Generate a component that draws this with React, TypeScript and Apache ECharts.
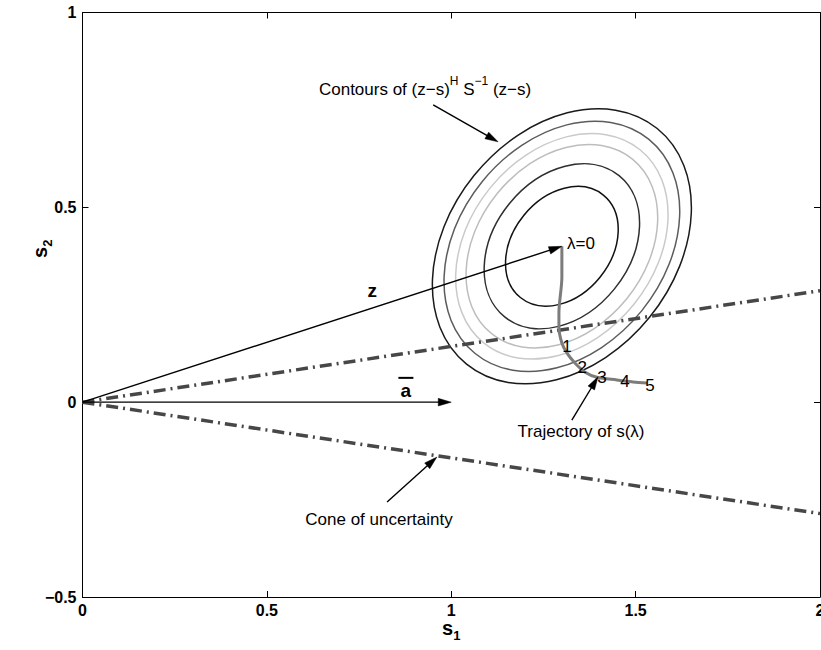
import React, { useEffect, useRef } from 'react';
import * as echarts from 'echarts';

const FONT = '"Liberation Sans", Arial, Helvetica, sans-serif';

// Axis ticks
const xTickValues = [0, 0.5, 1, 1.5, 2];
const xTickLabels = ['0', '0.5', '1', '1.5', '2'];
const yTickValues = [-0.5, 0, 0.5, 1];
const yTickLabels = ['\u22120.5', '0', '0.5', '1'];

// Vectors
const zVector = [1.3, 0.4];
const aVector = [1, 0];

// Cone of uncertainty edges
const coneUpper = [[0, 0], [2, 0.286]];
const coneLower = [[0, 0], [2, -0.286]];

// Contours of (z-s)^H S^-1 (z-s), centred on z
const contourScale = [1, 0.91, 0.82, 0.74, 0.6, 0.435];
const contourColors = ['#1a1a1a', '#5c5c5c', '#cacaca', '#bdbdbd', '#2e2e2e', '#111111'];
const ellipseMajor = 0.411;
const ellipseMinor = 0.306;
const ellipseAngleDeg = 51;

// Trajectory of s(lambda)
const trajectoryX = [1.3, 1.3, 1.292, 1.292, 1.3, 1.314, 1.336, 1.363, 1.395, 1.449, 1.493, 1.531];
const trajectoryY = [0.4, 0.321, 0.229, 0.193, 0.152, 0.126, 0.1, 0.077, 0.064, 0.057, 0.052, 0.049];

// Lambda markers along the trajectory
const lambdaLabels = ['\u03bb=0', '1', '2', '3', '4', '5'];
const lambdaLabelX = [1.314, 1.314, 1.355, 1.409, 1.471, 1.539];
const lambdaLabelY = [0.408, 0.142, 0.088, 0.064, 0.052, 0.044];

// Annotations
const annotationTexts = [
  '{n|Contours of (z\u2212s)}{sup|H}{n| S}{sup|\u22121}{n| (z\u2212s)}',
  '{n|Trajectory of s(\u03bb)}',
  '{n|Cone of uncertainty}',
];
const annotationX = [0.929, 1.352, 0.804];
const annotationY = [0.81, -0.067, -0.294];
const annotationArrowFromX = [0.951, 1.327, 0.826];
const annotationArrowFromY = [0.763, -0.046, -0.256];
const annotationArrowToX = [1.127, 1.398, 0.961];
const annotationArrowToY = [0.668, 0.065, -0.141];

// Vector labels
const vectorLabels = ['z', 'a'];
const vectorLabelX = [0.786, 0.877];
const vectorLabelY = [0.286, 0.029];

const arrowData = [
  [0, 0, zVector[0], zVector[1]],
  [0, 0, aVector[0], aVector[1]],
  ...annotationArrowFromX.map((x, i) => [x, annotationArrowFromY[i], annotationArrowToX[i], annotationArrowToY[i]]),
];

const subStyle = {
  fontSize: 13,
  fontWeight: 'bold',
  fontFamily: FONT,
  color: '#000',
  lineHeight: 13,
  verticalAlign: 'top',
  padding: [11, 0, 0, 0],
};
const xNameRich = {
  s: { fontSize: 20, fontWeight: 'bold', fontFamily: FONT, color: '#000', lineHeight: 18, verticalAlign: 'top' },
  sub: subStyle,
};
const yNameRich = {
  s: {
    fontSize: 20,
    fontWeight: 'bold',
    fontFamily: FONT,
    color: '#000',
    lineHeight: 18,
    verticalAlign: 'top',
    padding: [0, 0, 0, 112],
  },
  sub: subStyle,
};

function buildOption(): any {
  const axisCommon = {
    type: 'value',
    splitLine: { show: false },
    axisLine: { show: true, onZero: false, lineStyle: { color: '#000', width: 1 } },
    axisTick: { show: true, inside: true, length: 6, lineStyle: { color: '#000', width: 1 } },
  };
  const tickLabel = (values: number[], labels: string[]) => (v: number) => {
    const i = values.findIndex((t) => Math.abs(t - v) < 1e-9);
    return i >= 0 ? labels[i] : '';
  };
  return {
    animation: false,
    backgroundColor: '#fff',
    grid: { left: 82.5, right: 1, top: 12.5, bottom: 53, containLabel: false, outerBoundsMode: 'none' },
    xAxis: [
      {
        ...axisCommon,
        position: 'bottom',
        min: 0,
        max: 2,
        interval: 0.5,
        axisLabel: {
          color: '#000',
          fontSize: 16,
          fontWeight: 'bold',
          fontFamily: FONT,
          margin: 5,
          showMinLabel: true,
          showMaxLabel: true,
          hideOverlap: false,
          formatter: tickLabel(xTickValues, xTickLabels),
        },
        name: '{s|s}{sub|1}',
        nameLocation: 'middle',
        nameGap: 21,
        nameMoveOverlap: false,
        nameTextStyle: { rich: xNameRich },
      },
      {
        ...axisCommon,
        position: 'top',
        min: 0,
        max: 2,
        interval: 0.5,
        axisLabel: { show: false },
      },
    ],
    yAxis: [
      {
        ...axisCommon,
        position: 'left',
        min: -0.5,
        max: 1,
        interval: 0.5,
        axisLabel: {
          color: '#000',
          fontSize: 16,
          fontWeight: 'bold',
          fontFamily: FONT,
          margin: 6,
          showMinLabel: true,
          showMaxLabel: true,
          formatter: tickLabel(yTickValues, yTickLabels),
        },
        name: '{s|s}{sub|2}',
        nameLocation: 'middle',
        nameRotate: 90,
        nameGap: 35,
        nameMoveOverlap: false,
        nameTextStyle: { rich: yNameRich },
      },
      {
        ...axisCommon,
        position: 'right',
        min: -0.5,
        max: 1,
        interval: 0.5,
        axisLabel: { show: false },
      },
    ],
    series: [
      {
        type: 'custom',
        name: 'contours',
        coordinateSystem: 'cartesian2d',
        encode: { x: 0, y: 1 },
        data: contourScale.map((k, i) => [zVector[0], zVector[1], k, i]),
        z: 2,
        silent: true,
        renderItem: (params: any, api: any) => {
          const c = api.coord([api.value(0), api.value(1)]);
          const k = api.value(2);
          const i = api.value(3);
          const unit = api.size([1, 0])[0];
          return {
            type: 'ellipse',
            x: c[0],
            y: c[1],
            rotation: (ellipseAngleDeg * Math.PI) / 180,
            shape: { cx: 0, cy: 0, rx: ellipseMajor * k * unit, ry: ellipseMinor * k * unit },
            style: { fill: 'none', stroke: contourColors[i], lineWidth: 1.5 },
          };
        },
      },
      {
        type: 'line',
        name: 'cone upper',
        data: coneUpper,
        showSymbol: false,
        symbol: 'none',
        z: 3,
        lineStyle: { color: '#474747', width: 3.5, type: [12, 5, 2, 5] },
      },
      {
        type: 'line',
        name: 'cone lower',
        data: coneLower,
        showSymbol: false,
        symbol: 'none',
        z: 3,
        lineStyle: { color: '#474747', width: 3.5, type: [12, 5, 2, 5] },
      },
      {
        type: 'line',
        name: 'trajectory',
        data: trajectoryX.map((x, i) => [x, trajectoryY[i]]),
        showSymbol: false,
        symbol: 'none',
        smooth: 0.3,
        z: 4,
        lineStyle: { color: '#7c7c7c', width: 3 },
      },
      {
        type: 'custom',
        name: 'arrows',
        coordinateSystem: 'cartesian2d',
        encode: { x: [0, 2], y: [1, 3] },
        data: arrowData,
        z: 5,
        silent: true,
        renderItem: (params: any, api: any) => {
          const p0 = api.coord([api.value(0), api.value(1)]);
          const p1 = api.coord([api.value(2), api.value(3)]);
          const dx = p1[0] - p0[0];
          const dy = p1[1] - p0[1];
          const len = Math.hypot(dx, dy) || 1;
          const ux = dx / len;
          const uy = dy / len;
          const L = 13;
          const W = 3.8;
          const bx = p1[0] - ux * L;
          const by = p1[1] - uy * L;
          return {
            type: 'group',
            children: [
              {
                type: 'line',
                shape: { x1: p0[0], y1: p0[1], x2: bx + ux * 2, y2: by + uy * 2 },
                style: { stroke: '#000', lineWidth: 1.4 },
              },
              {
                type: 'polygon',
                shape: {
                  points: [
                    [p1[0], p1[1]],
                    [bx - uy * W, by + ux * W],
                    [bx + uy * W, by - ux * W],
                  ],
                },
                style: { fill: '#000', stroke: '#000', lineWidth: 0.5 },
              },
            ],
          };
        },
      },
      {
        type: 'custom',
        name: 'lambda labels',
        coordinateSystem: 'cartesian2d',
        encode: { x: 0, y: 1 },
        data: lambdaLabelX.map((x, i) => [x, lambdaLabelY[i], i]),
        z: 6,
        silent: true,
        renderItem: (params: any, api: any) => {
          const p = api.coord([api.value(0), api.value(1)]);
          const i = api.value(2);
          return {
            type: 'text',
            x: p[0],
            y: p[1],
            style: {
              text: lambdaLabels[i],
              fill: '#000',
              fontSize: 17,
              fontFamily: FONT,
              align: i === 0 ? 'left' : 'center',
              verticalAlign: 'middle',
            },
          };
        },
      },
      {
        type: 'custom',
        name: 'annotations',
        coordinateSystem: 'cartesian2d',
        encode: { x: 0, y: 1 },
        data: annotationX.map((x, i) => [x, annotationY[i], i]),
        z: 6,
        silent: true,
        renderItem: (params: any, api: any) => {
          const p = api.coord([api.value(0), api.value(1)]);
          const i = api.value(2);
          return {
            type: 'text',
            x: p[0],
            y: p[1],
            style: {
              text: annotationTexts[i],
              fill: '#000',
              fontSize: 17,
              fontFamily: FONT,
              align: 'center',
              verticalAlign: 'middle',
              rich: {
                n: { fontSize: 17, fontFamily: FONT, fill: '#000', lineHeight: 23, verticalAlign: 'bottom' },
                sup: { fontSize: 12, fontFamily: FONT, fill: '#000', lineHeight: 12, verticalAlign: 'top' },
              },
            },
          };
        },
      },
      {
        type: 'custom',
        name: 'vector labels',
        coordinateSystem: 'cartesian2d',
        encode: { x: 0, y: 1 },
        data: vectorLabelX.map((x, i) => [x, vectorLabelY[i], i]),
        z: 6,
        silent: true,
        renderItem: (params: any, api: any) => {
          const p = api.coord([api.value(0), api.value(1)]);
          const i = api.value(2);
          const children: any[] = [
            {
              type: 'text',
              x: p[0],
              y: p[1],
              style: {
                text: vectorLabels[i],
                fill: '#000',
                fontSize: 19,
                fontWeight: 'bold',
                fontFamily: FONT,
                align: 'center',
                verticalAlign: 'middle',
              },
            },
          ];
          if (vectorLabels[i] === 'a') {
            children.push({
              type: 'rect',
              shape: { x: p[0] - 7.5, y: p[1] - 14, width: 15, height: 2 },
              style: { fill: '#000' },
            });
          }
          return { type: 'group', children };
        },
      },
    ],
  };
}

export default function App() {
  const ref = useRef<HTMLDivElement>(null);
  useEffect(() => {
    if (!ref.current) return;
    const chart = echarts.init(ref.current, null, { renderer: 'svg' });
    chart.setOption(buildOption());
    return () => chart.dispose();
  }, []);
  return (
    <div
      ref={ref}
      style={{ position: 'absolute', left: 0, top: 0, width: 821, height: 650, background: '#fff' }}
    />
  );
}
